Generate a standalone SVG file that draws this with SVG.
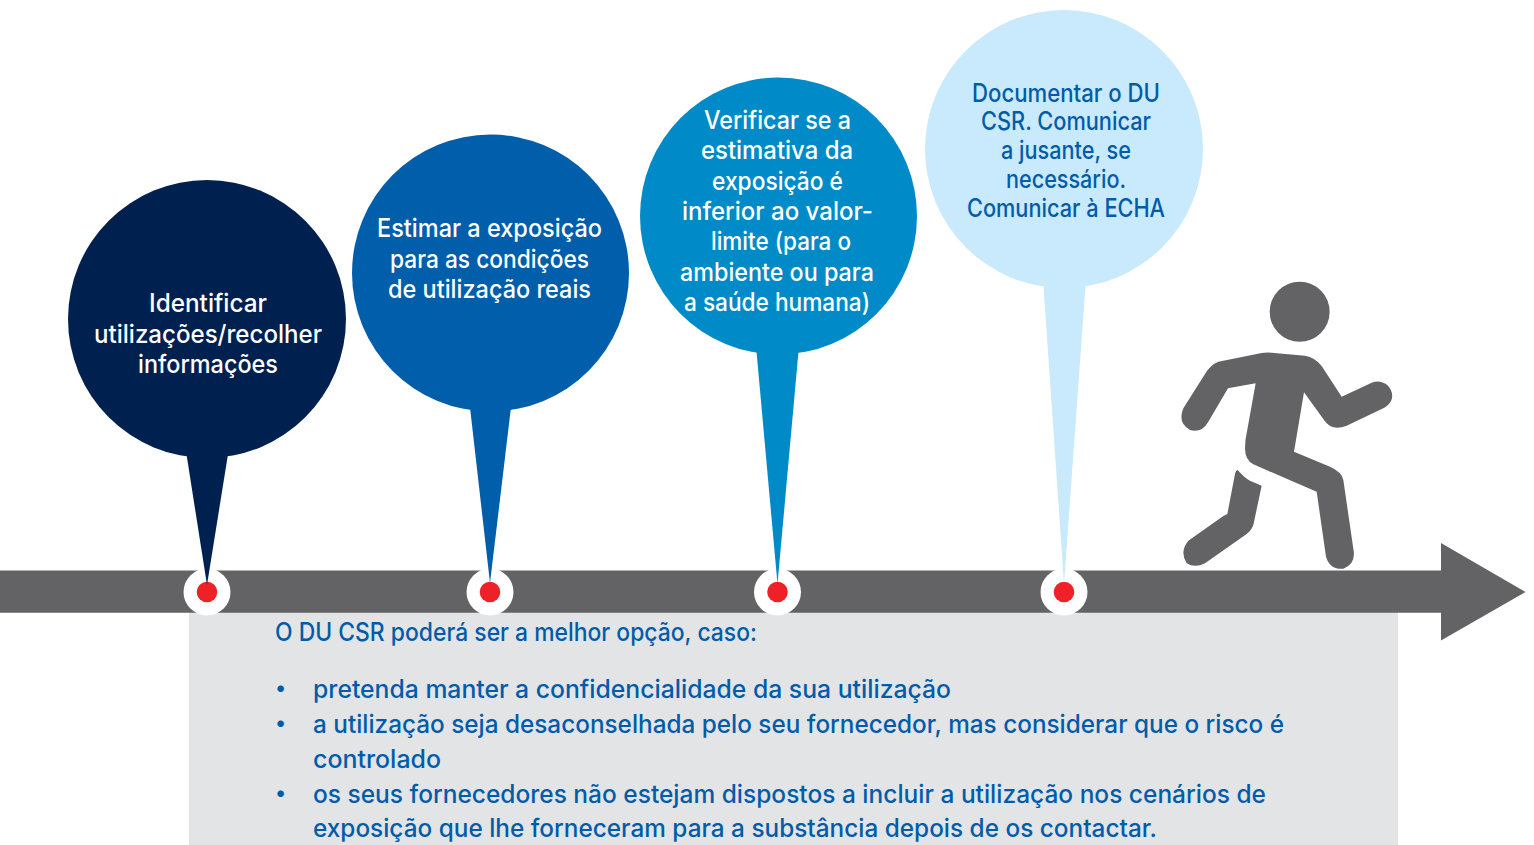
<svg xmlns="http://www.w3.org/2000/svg" width="1534" height="845" viewBox="0 0 1534 845">
<style>
text{font-family:"Inter","Noto Sans","Liberation Sans",sans-serif;font-size:25px;font-weight:500}
.w{fill:#fff}.b{fill:#005ca9}
.bul{font-size:21px}
.g{fill:#636365}
.halo{fill:#fff}.dot{fill:#ee2028}
</style>
<rect width="1534" height="845" fill="#fff"/>
<rect x="189" y="600" width="1209" height="245" fill="#e3e4e6"/>
<g id="connectors">
<path id="timeline" class="g" d="M0 570.5H1441V543L1525.500 592L1441 640.500V612.800H0Z"/>
</g>
<g id="dots">
<circle class="halo" cx="207" cy="592" r="23.500"/><circle class="dot" cx="207" cy="592" r="10.300"/>
<circle class="halo" cx="490" cy="592" r="23.500"/><circle class="dot" cx="490" cy="592" r="10.300"/>
<circle class="halo" cx="777.500" cy="592" r="23.500"/><circle class="dot" cx="777.500" cy="592" r="10.300"/>
<circle class="halo" cx="1064" cy="592" r="23.500"/><circle class="dot" cx="1064" cy="592" r="10.300"/>
</g>
<g id="node1">
<path d="M185.500 448L207 585L229 448Z" fill="#00214f"/><circle cx="207" cy="319" r="139" fill="#00214f"/>
<text class="w" x="149" y="312" textLength="118" lengthAdjust="spacingAndGlyphs">Identificar</text>
<text class="w" x="94" y="343" textLength="228" lengthAdjust="spacingAndGlyphs">utilizações/recolher</text>
<text class="w" x="138" y="373" textLength="140" lengthAdjust="spacingAndGlyphs">informações</text>
</g>
<g id="node2">
<path d="M469.500 403L490 583L511.500 403Z" fill="#005eaa"/><circle cx="490.500" cy="273" r="138.500" fill="#005eaa"/>
<text class="w" x="377" y="237" textLength="225" lengthAdjust="spacingAndGlyphs">Estimar a exposição</text>
<text class="w" x="390" y="268" textLength="199" lengthAdjust="spacingAndGlyphs">para as condições</text>
<text class="w" x="388" y="298" textLength="203" lengthAdjust="spacingAndGlyphs">de utilização reais</text>
</g>
<g id="node3">
<path d="M756 346L777.500 584L799 346Z" fill="#008bc8"/><circle cx="778.500" cy="216" r="138.500" fill="#008bc8"/>
<text class="w" x="704" y="129" textLength="147" lengthAdjust="spacingAndGlyphs">Verificar se a</text>
<text class="w" x="701" y="159" textLength="152" lengthAdjust="spacingAndGlyphs">estimativa da</text>
<text class="w" x="712" y="190" textLength="131" lengthAdjust="spacingAndGlyphs">exposição é</text>
<text class="w" x="682" y="220" textLength="191" lengthAdjust="spacingAndGlyphs">inferior ao valor-</text>
<text class="w" x="711" y="250" textLength="140" lengthAdjust="spacingAndGlyphs">limite (para o</text>
<text class="w" x="680" y="281" textLength="194" lengthAdjust="spacingAndGlyphs">ambiente ou para</text>
<text class="w" x="684" y="311" textLength="186" lengthAdjust="spacingAndGlyphs">a saúde humana)</text>
</g>
<g id="node4">
<path d="M1043 279L1064 584L1086 279Z" fill="#c9e9fc"/><circle cx="1064" cy="149" r="139" fill="#c9e9fc"/>
<text class="b" x="972" y="102" textLength="188" lengthAdjust="spacingAndGlyphs">Documentar o DU</text>
<text class="b" x="981" y="130" textLength="170" lengthAdjust="spacingAndGlyphs">CSR. Comunicar</text>
<text class="b" x="1001" y="159" textLength="130" lengthAdjust="spacingAndGlyphs">a jusante, se</text>
<text class="b" x="1006" y="188" textLength="120" lengthAdjust="spacingAndGlyphs">necessário.</text>
<text class="b" x="967" y="217" textLength="198" lengthAdjust="spacingAndGlyphs">Comunicar à ECHA</text>
</g>
<g id="runner" transform="translate(1150 270) scale(.33333)">
<circle class="g" cx="449" cy="125" r="90"/>
<path class="g" d="M100 415L165 312Q180 285 205 275L335 249Q350 246 365 248L465 257Q495 262 515 288L575 380L665 338Q690 328 712 345Q735 370 722 395Q712 410 695 417L590 467Q545 485 522 450L462 367L432 545L540 590Q575 605 580 630L612 850Q612 885 580 896Q540 900 528 860L500 665L310 583Q285 570 285 535Q285 510 290 490L317 340L234 355L175 455Q155 490 120 480Q82 460 100 415Z"/>
<path class="g" d="M263 600Q285 625 300 632L335 647L310 765Q305 780 290 792L165 880Q135 895 110 880Q88 845 115 812L220 738L232 732L255 612Q258 600 263 600Z"/>
</g>
<g id="callout">
<text class="b" x="275" y="641" textLength="482" lengthAdjust="spacingAndGlyphs">O DU CSR poderá ser a melhor opção, caso:</text>
<text class="b bul" x="275" y="695">•</text>
<text class="b" x="313" y="698" textLength="638" lengthAdjust="spacingAndGlyphs">pretenda manter a confidencialidade da sua utilização</text>
<text class="b bul" x="275" y="730">•</text>
<text class="b" x="313" y="733" textLength="971" lengthAdjust="spacingAndGlyphs">a utilização seja desaconselhada pelo seu fornecedor, mas considerar que o risco é</text>
<text class="b" x="313" y="768" textLength="128" lengthAdjust="spacingAndGlyphs">controlado</text>
<text class="b bul" x="275" y="800">•</text>
<text class="b" x="313" y="803" textLength="953" lengthAdjust="spacingAndGlyphs">os seus fornecedores não estejam dispostos a incluir a utilização nos cenários de</text>
<text class="b" x="313" y="837" textLength="844" lengthAdjust="spacingAndGlyphs">exposição que lhe forneceram para a substância depois de os contactar.</text>
</g>
</svg>
